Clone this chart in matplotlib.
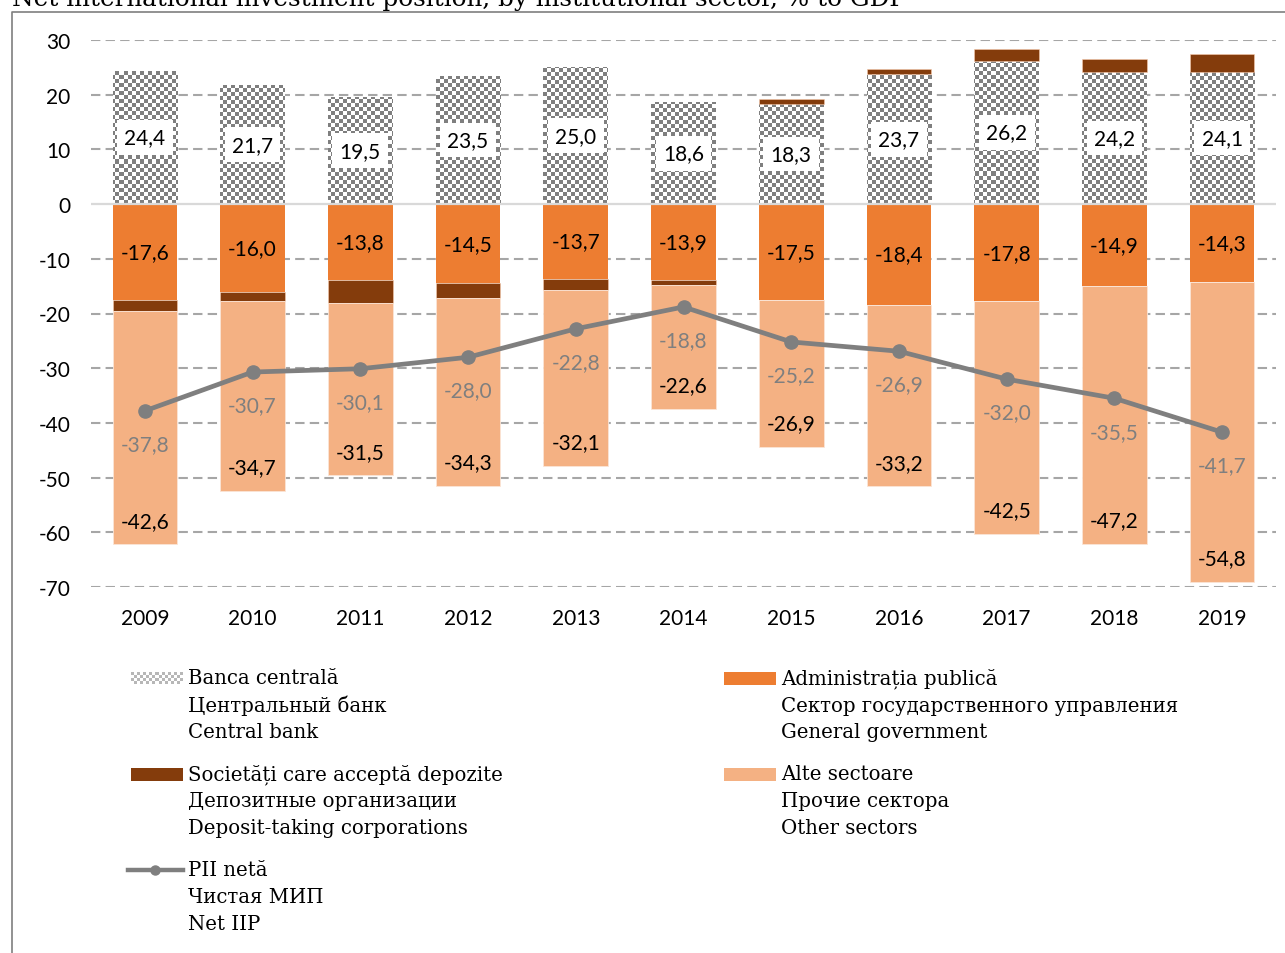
import numpy as np
import matplotlib
matplotlib.use('Agg')
import matplotlib.pyplot as plt
from matplotlib.lines import Line2D
from matplotlib.patches import Rectangle

# ---------------- data ----------------
years = ['2009', '2010', '2011', '2012', '2013', '2014', '2015', '2016', '2017', '2018', '2019']
central_bank = [24.4, 21.7, 19.5, 23.5, 25.0, 18.6, 18.3, 23.7, 26.2, 24.2, 24.1]
general_gov = [-17.6, -16.0, -13.8, -14.5, -13.7, -13.9, -17.5, -18.4, -17.8, -14.9, -14.3]
deposit_taking = [-2.0, -1.7, -4.3, -2.7, -2.0, -0.9, 0.9, 1.0, 2.1, 2.4, 3.3]
other_sectors = [-42.6, -34.7, -31.5, -34.3, -32.1, -22.6, -26.9, -33.2, -42.5, -47.2, -54.8]
net_iip = [-37.8, -30.7, -30.1, -28.0, -22.8, -18.8, -25.2, -26.9, -32.0, -35.5, -41.7]
yticks = [-70, -60, -50, -40, -30, -20, -10, 0, 10, 20, 30]

title = "Net international investment position, by institutional sector, % to GDP"
legend_left = [
    ("cb", ["Banca centrală", "Центральный банк", "Central bank"]),
    ("dep", ["Societăți care acceptă depozite", "Депозитные организации", "Deposit-taking corporations"]),
    ("line", ["PII netă", "Чистая МИП", "Net IIP"]),
]
legend_right = [
    ("gov", ["Administrația publică", "Сектор государственного управления", "General government"]),
    ("oth", ["Alte sectoare", "Прочие сектора", "Other sectors"]),
]

# ---------------- style ----------------
C_GOV = '#ed7d31'
C_DEP = '#843c0c'
C_OTH = '#f4b183'
C_LINE = '#7f7f7f'
C_CHK = '#7f7f7f'
NUM_FONT = ['Lato', 'DejaVu Sans']
SERIF = ['DejaVu Serif']
NUM_SIZE = 15
LEG_SIZE = 14.2

W, H = 1285, 954
fig = plt.figure(figsize=(W / 100, H / 100), dpi=100)


def fx(px):
    return px / W


def fy(py):
    return 1 - py / H


def fmt(v):
    return f"{v:.1f}".replace('.', ',')


ax = fig.add_axes([fx(91), fy(588), fx(1276) - fx(91), (588 - 41) / H])

x = np.arange(len(years))
cb = np.array(central_bank)
gov = np.array(general_gov)
dep = np.array(deposit_taking)
oth = np.array(other_sectors)
net = np.array(net_iip)

xlim = (-0.5, len(years) - 0.5)
ylim = (-70, 30)

# grid
for t in yticks:
    if t != 0:
        ax.axhline(t, color='#a6a6a6', lw=1.5, dashes=(4.5, 2.5), zorder=0)
ax.axhline(0, color='#d9d9d9', lw=1.6, zorder=5)

bw = 0.6
# central bank bars with checkerboard texture
cb_bars = ax.bar(x, cb, bw, color='none', linewidth=0, zorder=2)
nx, ny = 296, 137
ii, jj = np.meshgrid(np.arange(nx), np.arange(ny))
mask = ((ii + jj) % 2 == 0)
chk = np.ones((ny, nx, 3))
g = int(C_CHK[1:3], 16) / 255
chk[mask] = g
for rect in cb_bars:
    im = ax.imshow(chk, extent=(xlim[0], xlim[1], ylim[0], ylim[1]), aspect='auto',
                   interpolation='nearest', zorder=2)
    im.set_clip_path(rect)

dep_bottom = np.where(dep >= 0, cb, gov)
ax.bar(x, dep, bw, bottom=dep_bottom, color=C_DEP, edgecolor='#f8cbad', linewidth=0.4, zorder=3)
ax.bar(x, gov, bw, color=C_GOV, linewidth=0, zorder=3)
oth_bottom = gov + np.minimum(dep, 0)
ax.bar(x, oth, bw, bottom=oth_bottom, color=C_OTH, edgecolor='#fbe5d6', linewidth=0.6, zorder=3)

# labels
for xi, v in zip(x, cb):
    ax.text(xi, v / 2, fmt(v), ha='center', va='center', fontsize=NUM_SIZE, family=NUM_FONT,
            color='black', zorder=8,
            bbox=dict(boxstyle='square,pad=0.35', fc='white', ec='none'))
for xi, v in zip(x, gov):
    ax.text(xi, v / 2, fmt(v), ha='center', va='center', fontsize=NUM_SIZE, family=NUM_FONT,
            color='black', zorder=8)
for xi, b, v in zip(x, oth_bottom, oth):
    ax.annotate(fmt(v), (xi, b + v), xytext=(0, 17), textcoords='offset points',
                ha='center', va='center', fontsize=NUM_SIZE, family=NUM_FONT, color='black', zorder=8)

ax.plot(x, net, color=C_LINE, lw=3.4, marker='o', ms=9.5, zorder=7)
for xi, v in zip(x, net):
    ax.annotate(fmt(v), (xi, v), xytext=(0, -24), textcoords='offset points',
                ha='center', va='center', fontsize=NUM_SIZE, family=NUM_FONT, color=C_LINE, zorder=8)

ax.set_xlim(*xlim)
ax.set_ylim(*ylim)
ax.set_yticks(yticks, [str(t) for t in yticks])
ax.set_xticks(x, years)
ax.tick_params(axis='both', length=0, labelsize=NUM_SIZE)
ax.tick_params(axis='y', pad=15)
ax.tick_params(axis='x', pad=15)
for lab in ax.get_xticklabels() + ax.get_yticklabels():
    lab.set_family(NUM_FONT)
for s in ax.spines.values():
    s.set_visible(False)

# ---------------- outer frame ----------------
fig.add_artist(Line2D([fx(12), fx(12), 1.0], [0.0, fy(13), fy(13)], transform=fig.transFigure,
                      color='#7f7f7f', lw=1.2))

# title (partially cut off at top, as in the reference)
fig.text(fx(12), fy(6), title, ha='left', va='baseline', family=SERIF, fontsize=17.7, color='black')

# ---------------- legend ----------------
def draw_handle(kind, px_left, py_center):
    if kind == 'cb':
        hax = fig.add_axes([fx(px_left), fy(py_center + 6), 52 / W, 12 / H])
        hx, hy = 17, 4
        a, b = np.meshgrid(np.arange(hx), np.arange(hy))
        m = ((a + b) % 2 == 0)
        arr = np.ones((hy, hx, 3))
        arr[m] = 0.72
        hax.imshow(arr, aspect='auto', interpolation='nearest')
        hax.set_axis_off()
    elif kind in ('dep', 'gov', 'oth'):
        col = {'dep': C_DEP, 'gov': C_GOV, 'oth': C_OTH}[kind]
        fig.add_artist(Rectangle((fx(px_left), fy(py_center + 6.5)), 52 / W, 13 / H,
                                 transform=fig.transFigure, color=col, lw=0))
    elif kind == 'line':
        fig.add_artist(Line2D([fx(px_left - 3), fx(px_left + 52)], [fy(py_center)] * 2,
                              transform=fig.transFigure, color=C_LINE, lw=3.2))
        fig.add_artist(Line2D([fx(px_left + 24)], [fy(py_center)], transform=fig.transFigure,
                              color=C_LINE, marker='o', ms=6.5, lw=0))


def draw_column(items, px_handle, px_text, py_start):
    for gi, (kind, lines) in enumerate(items):
        y0 = py_start + gi * 96
        draw_handle(kind, px_handle, y0)
        for li, t in enumerate(lines):
            fig.text(fx(px_text), fy(y0 + li * 27), t, ha='left', va='center', family=SERIF,
                     fontsize=LEG_SIZE, color='black')


draw_column(legend_left, 131, 188, 679)
draw_column(legend_right, 724, 781, 679)

fig.savefig('out.png', dpi=100)
